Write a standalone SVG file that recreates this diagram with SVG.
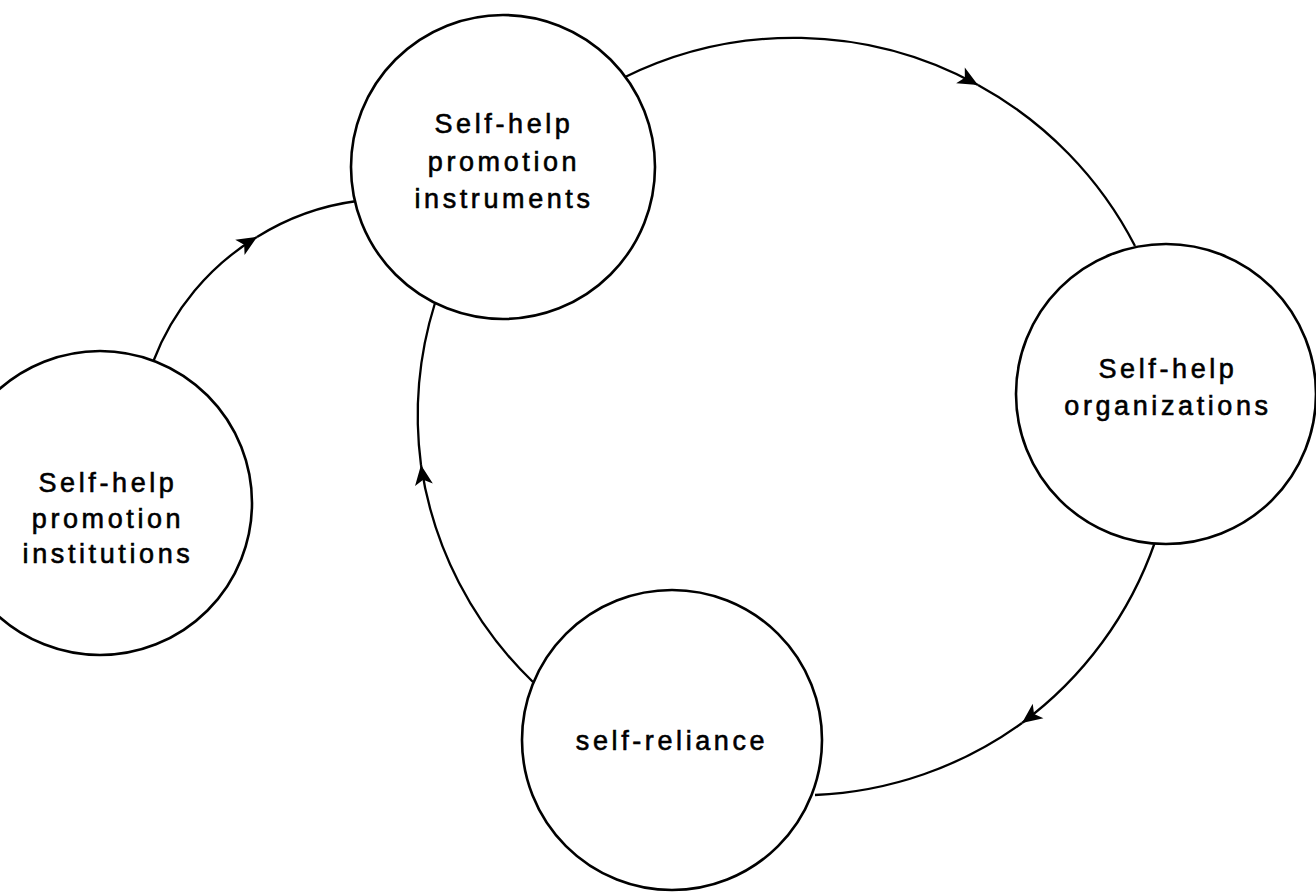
<svg xmlns="http://www.w3.org/2000/svg" width="1316" height="892" viewBox="0 0 1316 892">
<style>
.node circle{fill:#fff;stroke:#000;stroke-width:2.6}
.node text{font-family:"Liberation Sans",Arial,sans-serif;font-size:27px;letter-spacing:3.6px;fill:#000;stroke:#000;stroke-width:0.6;text-anchor:middle}
.conn path{fill:none;stroke:#000;stroke-width:2.3}
</style>
<defs>
<marker id="ah" viewBox="-22 -11 24 22" markerWidth="24" markerHeight="22" refX="0" refY="0" orient="auto" markerUnits="userSpaceOnUse">
<path d="M0,0 L-20,-9 L-15,0 L-20,9 Z" fill="#000"/>
</marker>
</defs>
<rect width="1316" height="892" fill="#fff"/>
<g id="connectors" class="conn">
<path d="M623,78 A383,383 0 0 1 978,85" marker-end="url(#ah)"/>
<path d="M978,85 A383,383 0 0 1 1135,246"/>
<path d="M1155,542 A380,380 0 0 1 1022,723" marker-end="url(#ah)"/>
<path d="M1022,723 A380,380 0 0 1 815,795"/>
<path d="M533,682 A378,378 0 0 1 421,465" marker-end="url(#ah)"/>
<path d="M421,465 A378,378 0 0 1 435,303"/>
<path d="M153,362 A250,250 0 0 1 257,237" marker-end="url(#ah)"/>
<path d="M257,237 A250,250 0 0 1 357,201"/>
</g>
<g id="node-instruments" class="node">
<circle cx="503" cy="167" r="152"/>
<text x="504" y="133">Self-help</text>
<text x="504" y="171">promotion</text>
<text x="504" y="208">instruments</text>
</g>
<g id="node-organizations" class="node">
<circle cx="1166" cy="394" r="150"/>
<text x="1168" y="378">Self-help</text>
<text x="1168" y="415">organizations</text>
</g>
<g id="node-institutions" class="node">
<circle cx="100" cy="503" r="152"/>
<text x="108" y="492">Self-help</text>
<text x="108" y="528">promotion</text>
<text x="108" y="563">institutions</text>
</g>
<g id="node-selfreliance" class="node">
<circle cx="672" cy="740" r="150"/>
<text x="672" y="750">self-reliance</text>
</g>
</svg>
